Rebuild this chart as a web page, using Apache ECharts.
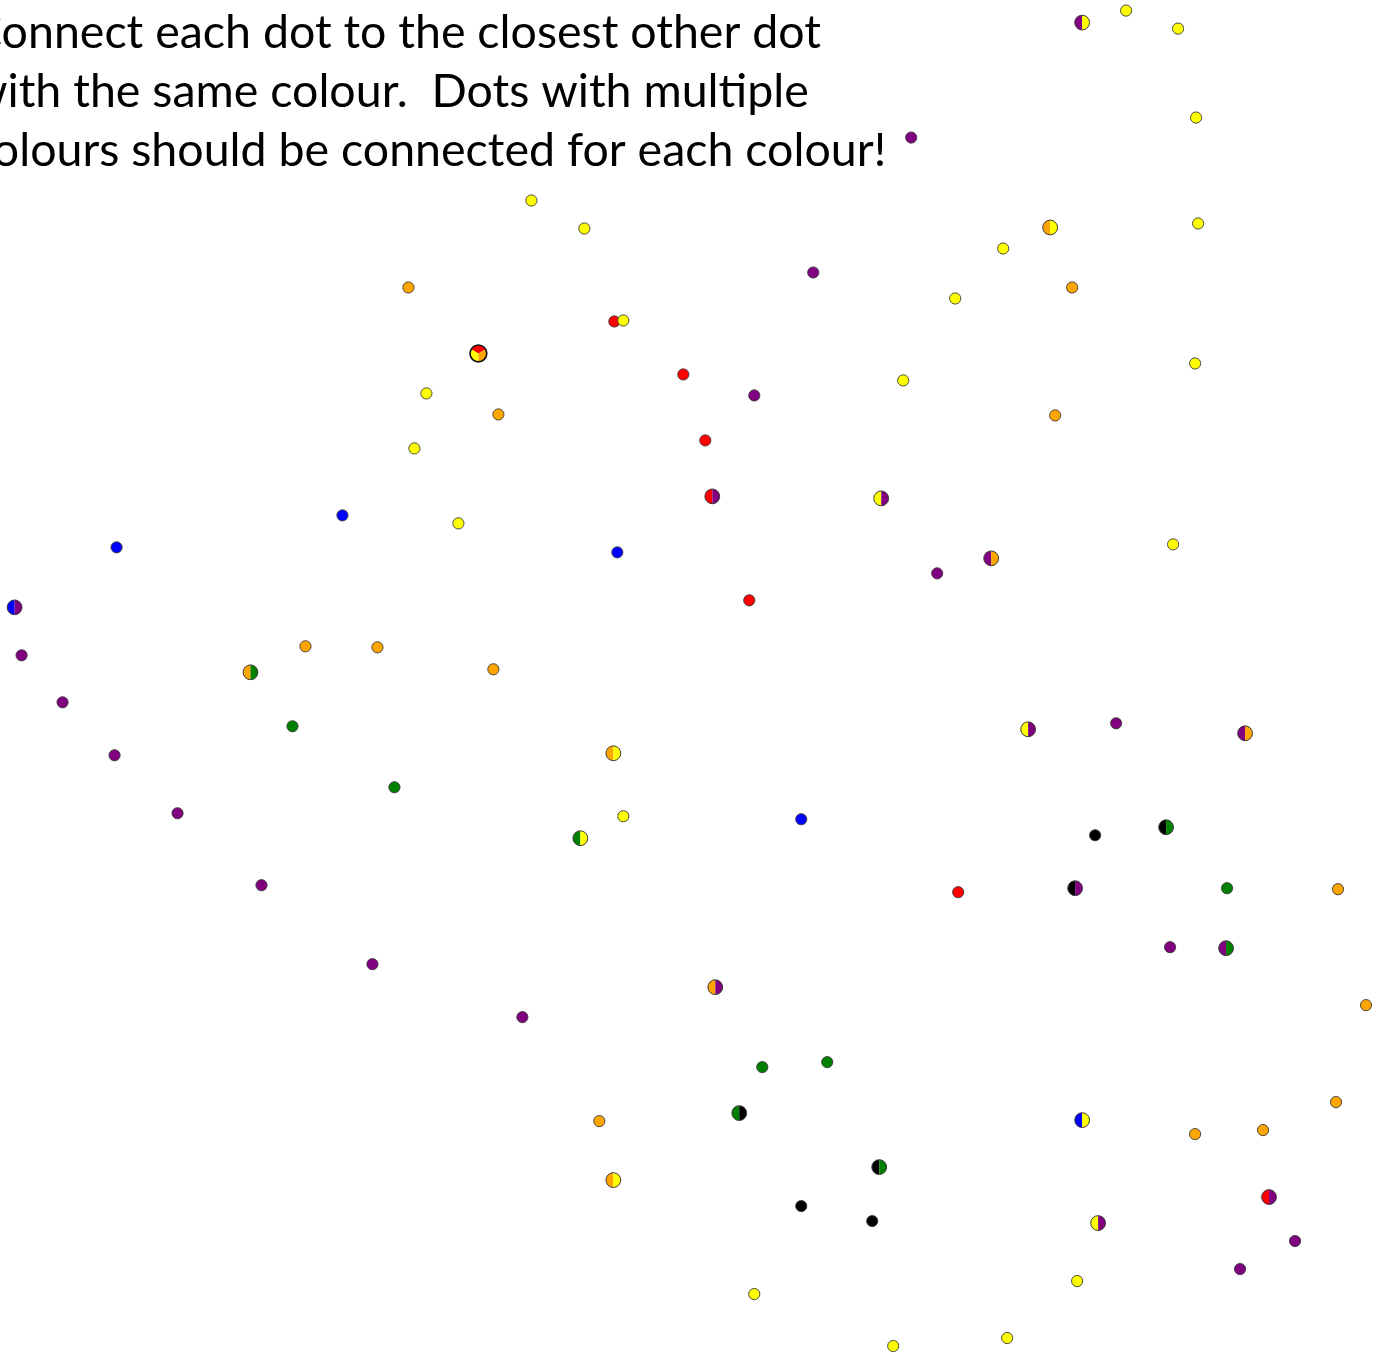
<!DOCTYPE html>
<html>
<head>
<meta charset="utf-8">
<script src="https://cdn.jsdelivr.net/npm/echarts@6/dist/echarts.min.js"></script>
<style>html,body{margin:0;padding:0;background:#fff}#c{width:1387px;height:1353px}</style>
</head>
<body>
<div id="c"></div>
<script>
const titleLines = [
  "Connect each dot to the closest other dot",
  "with the same colour.  Dots with multiple",
  "colours should be connected for each colour!"
];

const purpleDots = [[911,137],[813,272],[754,395],[937,573],[21,655],[62,702],[114,755],[177,813],[261,885],[372,964],[522,1017],[1116,723],[1170,947],[1295,1241],[1240,1269]];
const orangeDots = [[408,287],[1072,287],[498,414],[1055,415],[305,646],[377,647],[493,669],[1338,889],[1366,1005],[1336,1102],[599,1121],[1195,1134],[1263,1130]];
const redDots = [[614,321],[683,374],[705,440],[749,600],[958,892]];
const blueDots = [[342,515],[116,547],[617,552],[801,819]];
const greenDots = [[292,726],[394,787],[1227,888],[762,1067],[827,1062]];
const blackDots = [[1095,835],[801,1206],[872,1221]];
const yellowDots = [[1126,10],[1178,28],[1196,117],[1198,223],[531,200],[584,228],[1003,248],[955,298],[623,320],[903,380],[1195,363],[426,393],[414,448],[458,523],[1173,544],[623,816],[754,1294],[893,1346],[1007,1338],[1077,1281]];

const multiDots = [[1082,22],[1050,227],[478,353],[712,496],[881,498],[991,558],[14,607],[250,672],[1028,729],[1245,733],[613,753],[580,838],[1166,827],[1075,888],[1226,948],[715,987],[739,1113],[879,1167],[1082,1120],[1269,1197],[1098,1223],[613,1180]];
const multiColours = [
  ["purple","yellow"],["orange","yellow"],["red","yellow","orange"],["red","purple"],["yellow","purple"],
  ["purple","orange"],["blue","purple"],["orange","green"],["yellow","purple"],["purple","orange"],
  ["orange","yellow"],["green","yellow"],["black","green"],["black","purple"],["purple","green"],
  ["orange","purple"],["green","black"],["black","green"],["blue","yellow"],["red","purple"],
  ["yellow","purple"],["orange","yellow"]
];

const palette = {purple:"#800080",orange:"#ffa500",red:"#ff0000",blue:"#0000ff",green:"#008000",black:"#000000",yellow:"#ffff00"};

function pieItem(colours){
  return function(params, api){
    const p = api.coord([api.value(0), api.value(1)]);
    const cols = colours ? colours[params.dataIndex] : null;
    const n = cols ? cols.length : 1;
    const r = n === 1 ? 5.6 : (n === 2 ? 7.4 : 8.4);
    const children = [];
    if (n === 1) {
      return {type:'circle', shape:{cx:p[0], cy:p[1], r:r}, style:{fill:palette[params.seriesName], stroke:'#3a3a3a', lineWidth:0.9}};
    }
    const startMath = n === 3 ? 30 : 90;
    const span = 360 / n;
    for (let i = 0; i < n; i++) {
      const a0 = startMath + i * span;
      const a1 = a0 + span;
      children.push({type:'sector', shape:{cx:p[0], cy:p[1], r0:0, r:r, startAngle:-a1*Math.PI/180, endAngle:-a0*Math.PI/180, clockwise:true}, style:{fill:palette[cols[i]]}});
    }
    children.push({type:'circle', shape:{cx:p[0], cy:p[1], r:r}, style:{fill:null, stroke: n===3 ? '#111' : '#3a3a3a', lineWidth: n===3 ? 1.6 : 1}});
    return {type:'group', children:children};
  };
}

const singles = [["purple",purpleDots],["orange",orangeDots],["red",redDots],["blue",blueDots],["green",greenDots],["black",blackDots],["yellow",yellowDots]];
const series = singles.map(([name, data]) => ({
  type:'custom', name:name, data:data, clip:false, silent:true, renderItem:pieItem(null)
}));
series.push({type:'custom', name:'multi', data:multiDots, clip:false, silent:true, renderItem:pieItem(multiColours)});

const chart = echarts.init(document.getElementById('c'), null, {renderer:'canvas'});
chart.setOption({
  animation:false,
  backgroundColor:'#fff',
  grid:{left:0.6,right:0,top:0.6,bottom:0},
  xAxis:{type:'value', min:0, max:1387, show:false},
  yAxis:{type:'value', min:0, max:1353, inverse:true, show:false},
  graphic: titleLines.map((t, i) => ({
    type:'text', left:-29, top: 9 + i*59,
    style:{text:t, font:'46.5px Lato', fill:'#000'}
  })),
  series:series
});
</script>
</body>
</html>
